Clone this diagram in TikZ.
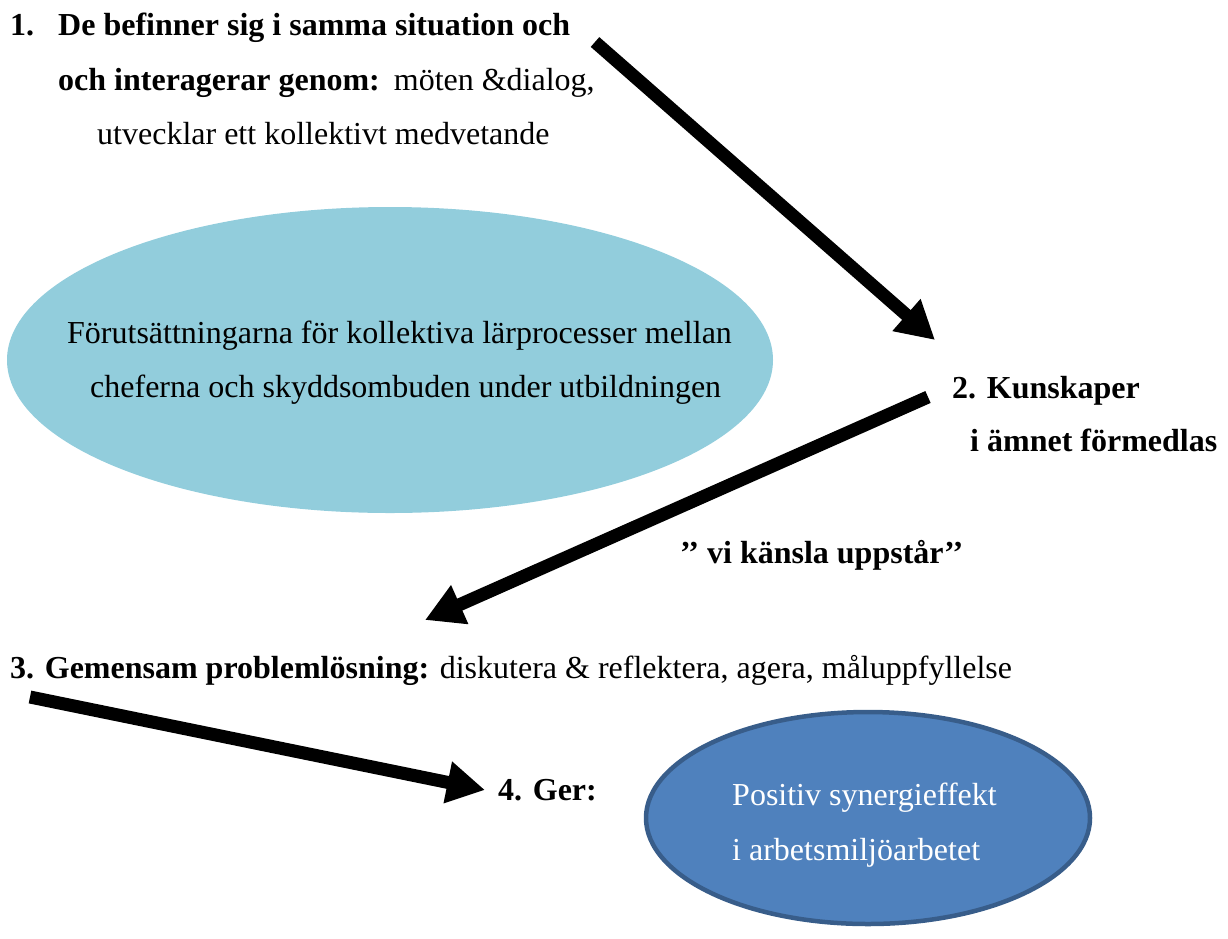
\documentclass[tikz,border=0pt]{standalone}
\usepackage{fontspec}
\setmainfont{Liberation Serif}
\usetikzlibrary{arrows.meta,shapes.geometric}
\definecolor{lightblue}{HTML}{92CDDC}
\definecolor{darkblue}{HTML}{4F81BD}
\definecolor{darkborder}{HTML}{385D8A}
\tikzset{
  txt/.style={anchor=base west,inner sep=0pt,font=\fontsize{32}{54}\selectfont},
  bigarrow/.style={line width=13pt,-{Triangle[length=38pt,width=40pt]}},
  blob/.style={ellipse,inner sep=0pt},
}
\begin{document}
\begin{tikzpicture}[x=1pt,y=-1pt]
\useasboundingbox (0,0) rectangle (1228,938);
% ellipses
\node[blob,fill=lightblue,minimum width=766pt,minimum height=306pt] (e1) at (390,360) {};
\node[blob,fill=darkblue,draw=darkborder,line width=4.5pt,minimum width=444pt,minimum height=212pt] (e2) at (868,818) {};
% ellipse texts
\node[txt] (e1a) at (67,343) {Förutsättningarna för kollektiva lärprocesser mellan};
\node[txt] (e1b) at (90,397) {cheferna och skyddsombuden under utbildningen};
\node[txt,text=white] (e2a) at (732,805) {Positiv synergieffekt};
\node[txt,text=white] (e2b) at (732,860) {i arbetsmiljöarbetet};
% texts
\node[txt] (t1a) at (10,35) {\textbf{1.\hspace{24pt}De befinner sig i samma situation och}};
\node[txt] (t1b) at (58,90) {\textbf{och interagerar genom:}\hspace{14pt}möten \&dialog,};
\node[txt] (t1c) at (97,144) {utvecklar ett kollektivt medvetande};
\node[txt] (t2a) at (952,398) {\textbf{2. Kunskaper}};
\node[txt] (t2b) at (970,451) {\textbf{i ämnet förmedlas}};
\node[txt] (tvi) at (680,563) {\textbf{’{}’ vi känsla uppstår’{}’}};
\node[txt] (t3) at (10,678) {\textbf{3. Gemensam problemlösning:} diskutera \& reflektera, agera, måluppfyllelse};
\node[txt] (t4) at (498,800) {\textbf{4. Ger:}};
% arrow coordinates
\coordinate (a1s) at (595,42);
\coordinate (a1e) at (935,340);
\coordinate (a2s) at (928,397);
\coordinate (a2e) at (425,620);
\coordinate (a3s) at (30,697);
\coordinate (a3e) at (485,790);
\draw[bigarrow] (a1s) -- (a1e);
\draw[bigarrow] (a2s) -- (a2e);
\draw[bigarrow] (a3s) -- (a3e);
\end{tikzpicture}
\end{document}
